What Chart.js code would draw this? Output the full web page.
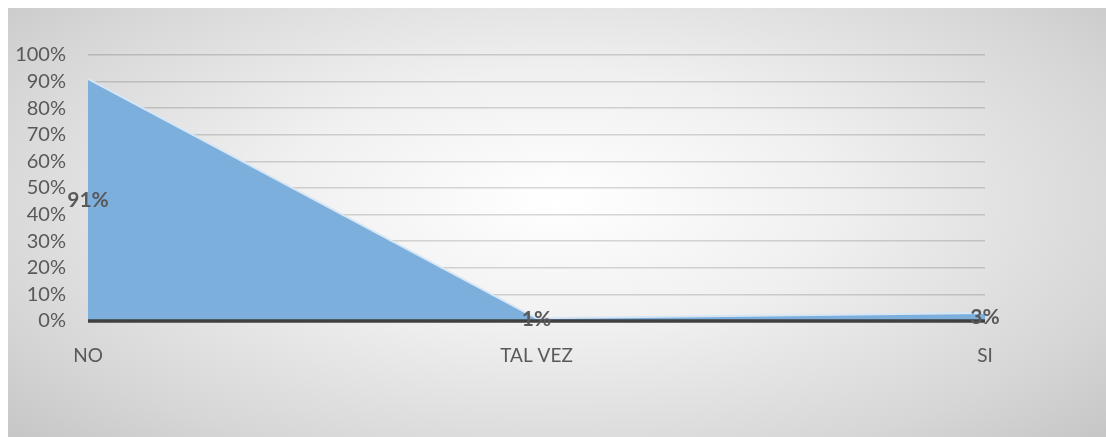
<!DOCTYPE html>
<html><head><meta charset="utf-8">
<script src="https://cdn.jsdelivr.net/npm/chart.js@4/dist/chart.umd.min.js"></script>
<style>
html,body{margin:0;padding:0;background:#fff;}
#wrap{position:absolute;left:8px;top:8px;width:1098px;height:429px;
background:radial-gradient(ellipse 72% 85% at 50% 45%, #ffffff 0%, #f0f0f0 35%, #d6d6d6 75%, #c2c2c2 100%);}
</style></head><body>
<div id="wrap"><canvas id="c" width="1098" height="429"></canvas></div>
<script>
const categories = ['NO', 'TAL VEZ', 'SI'];
const values = [0.91, 0.01, 0.03];
const valueLabels = ['91%', '1%', '3%'];
const yTicks = [0, 0.1, 0.2, 0.3, 0.4, 0.5, 0.6, 0.7, 0.8, 0.9, 1.0];

const FONT = 'Lato, "Open Sans", sans-serif';

const labelPlugin = {
  id: 'areaLabels',
  afterDraw(chart) {
    const ctx = chart.ctx;
    const meta = chart.getDatasetMeta(0);
    const ys = chart.scales.y;
    const y0 = ys.getPixelForValue(0);
    const area = chart.chartArea;
    ctx.save();
    // horizontal axis line
    ctx.strokeStyle = '#404040';
    ctx.lineWidth = 3.5;
    ctx.beginPath();
    ctx.moveTo(area.left, y0);
    ctx.lineTo(area.right, y0);
    ctx.stroke();
    ctx.font = 'bold 21px ' + FONT;
    ctx.fillStyle = '#595959';
    ctx.textAlign = 'center';
    ctx.textBaseline = 'middle';
    meta.data.forEach((pt, i) => {
      ctx.fillText(valueLabels[i], pt.x, (pt.y + y0) / 2);
    });
    ctx.restore();
  }
};

new Chart(document.getElementById('c'), {
  type: 'line',
  data: {
    labels: categories,
    datasets: [{
      data: values,
      fill: 'origin',
      backgroundColor: '#7dafdd',
      borderColor: '#d6e6f5',
      borderWidth: 2,
      pointRadius: 0,
      tension: 0
    }]
  },
  options: {
    responsive: false,
    animation: false,
    layout: { padding: { top: 47, right: 121, left: 0, bottom: 0 } },
    plugins: { legend: { display: false }, tooltip: { enabled: false } },
    scales: {
      x: {
        offset: false,
        grid: { display: false, drawTicks: false },
        border: { display: false },
        ticks: { color: '#595959', font: { family: FONT, size: 19 }, padding: 23, maxRotation: 0, autoSkip: false },
        afterFit(s) { s.height = 116; }
      },
      y: {
        z: 1,
        min: 0, max: 1,
        afterBuildTicks(s) { s.ticks = yTicks.map(v => ({ value: v })); },
        grid: { color: 'rgba(0,0,0,0.15)', lineWidth: 1.5, drawTicks: false },
        border: { display: false },
        ticks: {
          autoSkip: false,
          color: '#595959', font: { family: FONT, size: 20 }, padding: 22,
          callback: v => Math.round(v * 100) + '%'
        },
        afterFit(s) { s.width = 80; }
      }
    }
  },
  plugins: [labelPlugin]
});
</script>
</body></html>
